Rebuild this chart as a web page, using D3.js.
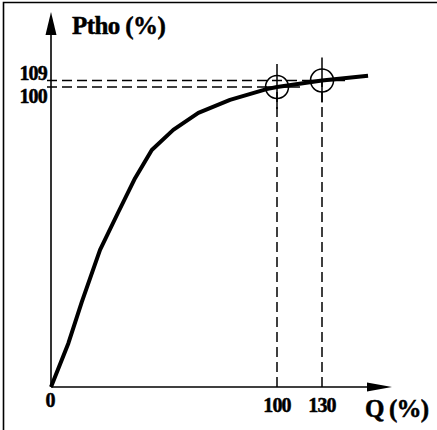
<!DOCTYPE html>
<html>
<head>
<meta charset="utf-8">
<script src="https://cdn.jsdelivr.net/npm/d3@7"></script>
<style>
  html, body { margin: 0; padding: 0; background: #fff; }
  svg text { font-family: "Liberation Serif", "DejaVu Serif", serif; font-weight: bold; fill: #000; stroke: #000; stroke-width: 0.5px; }
</style>
</head>
<body>
<svg id="chart" width="437" height="430"></svg>
<script>
// Q (%) -> Ptho (%) characteristic
const qValues = [0, 7.7, 13.6, 21.7, 29.6, 37.2, 44.6, 54.1, 65.2, 79.2, 95.4, 100, 130, 160.7];
const pValues = [0, 14.6, 28.3, 45.7, 58, 69.6, 79, 85.7, 91.4, 95.7, 99.3, 100, 109, 115.6];

// marked operating points
const markQ = [100, 130];
const markP = [100, 109];

// tick labels
const xTicks = [0, 100, 130];
const yTicks = [100, 109];

const svg = d3.select("#chart");

// schematic axes: not to scale, so piecewise scales
const x = d3.scaleLinear().domain([0, 100, 130]).range([51, 277, 322]);
const y = d3.scaleLinear().domain([0, 100, 109]).range([387, 87, 80.5]);

// frame
svg.append("path")
  .attr("d", "M3.5,430 V2.5 H437")
  .attr("fill", "none")
  .attr("stroke", "#000")
  .attr("stroke-width", 1.6);

// guide lines to the marked points
markQ.forEach(function(q, i) {
  var cx = x(q), cy = y(markP[i]);
  svg.append("line")
    .attr("x1", cx).attr("x2", cx)
    .attr("y1", y(0)).attr("y2", cy)
    .attr("stroke", "#000").attr("stroke-width", 1.5)
    .attr("stroke-dasharray", "10,5");
  svg.append("line")
    .attr("x1", x(0) - 4).attr("x2", cx)
    .attr("y1", cy).attr("y2", cy)
    .attr("stroke", "#000").attr("stroke-width", 1.5)
    .attr("stroke-dasharray", "10,5");
});

// axes
svg.append("line")
  .attr("x1", x(0)).attr("y1", y(0))
  .attr("x2", 370).attr("y2", y(0))
  .attr("stroke", "#000").attr("stroke-width", 1.6);
svg.append("path")
  .attr("d", "M367," + (y(0) - 4.5) + " L392," + y(0) + " L367," + (y(0) + 4.5) + "Z")
  .attr("fill", "#000");

svg.append("line")
  .attr("x1", x(0)).attr("y1", y(0))
  .attr("x2", x(0)).attr("y2", 33)
  .attr("stroke", "#000").attr("stroke-width", 1.6);
svg.append("path")
  .attr("d", "M" + (x(0) - 5.5) + ",35 L" + x(0) + ",12 L" + (x(0) + 5.5) + ",35Z")
  .attr("fill", "#000");

// curve
const line = d3.line()
  .x(function(d) { return x(d[0]); })
  .y(function(d) { return y(d[1]); });

svg.append("path")
  .datum(d3.zip(qValues, pValues))
  .attr("d", line)
  .attr("fill", "none")
  .attr("stroke", "#000")
  .attr("stroke-width", 4)
  .attr("stroke-linejoin", "round");

// circles with crosshairs
markQ.forEach(function(q, i) {
  var cx = x(q), cy = y(markP[i]);
  svg.append("circle")
    .attr("cx", cx).attr("cy", cy).attr("r", 11.5)
    .attr("fill", "none").attr("stroke", "#000").attr("stroke-width", 1.5);
  svg.append("line")
    .attr("x1", cx).attr("x2", cx)
    .attr("y1", cy - 23).attr("y2", cy + 22)
    .attr("stroke", "#000").attr("stroke-width", 1.5);
  svg.append("line")
    .attr("x1", cx - 12).attr("x2", cx + 23)
    .attr("y1", cy).attr("y2", cy)
    .attr("stroke", "#000").attr("stroke-width", 1.5);
});

// tick labels
svg.selectAll(".xtick")
  .data(xTicks)
  .enter()
  .append("text")
  .attr("class", "xtick")
  .attr("x", function(d) { return d === 0 ? x(d) - 1 : x(d); })
  .attr("y", function(d) { return d === 0 ? 407 : 411.5; })
  .attr("text-anchor", "middle")
  .attr("font-size", "20px")
  .attr("letter-spacing", "-0.8")
  .text(function(d) { return d; });

svg.selectAll(".ytick")
  .data(yTicks)
  .enter()
  .append("text")
  .attr("class", "ytick")
  .attr("x", 47)
  .attr("y", function(d) { return d === 109 ? 80 : 102.5; })
  .attr("text-anchor", "end")
  .attr("font-size", "20px")
  .attr("letter-spacing", "-0.8")
  .text(function(d) { return d; });

// axis titles
svg.append("text")
  .attr("x", 72).attr("y", 33.5)
  .attr("font-size", "25px")
  .attr("letter-spacing", "-0.6")
  .text("Ptho (%)");

svg.append("text")
  .attr("x", 365).attr("y", 417)
  .attr("font-size", "25px")
  .attr("letter-spacing", "-0.8")
  .text("Q (%)");
</script>
</body>
</html>
